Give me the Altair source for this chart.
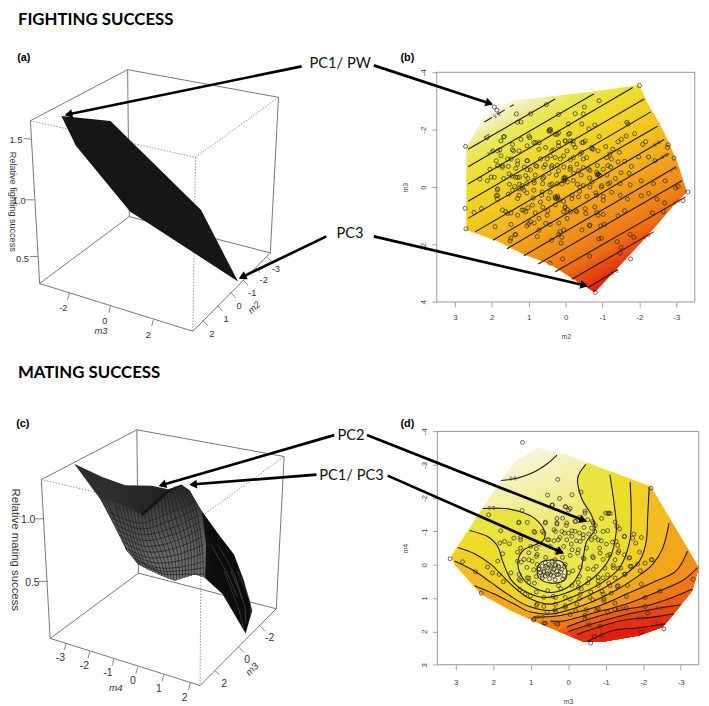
import math
import altair as alt
import pandas as pd

W, H = 701, 698
INK = "#111111"

# ---------- panel (b): fighting success, values read as (m2, m3) ----------
hull_b = [(2.69,-1.38),(2.24,-2.38),(1.44,-3.02),(.68,-3.12),(-.04,-3.23),(-.75,-3.33),(-2.0,-3.56),(-2.22,-2.93),
          (-2.54,-2.24),(-2.80,-1.55),(-3.03,-.86),(-3.29,.17),(-2.89,.69),(-2.36,1.49),(-2.0,2.0),(-1.46,2.75),
          (-.79,3.67),(-.21,3.21),(.41,2.70),(1.13,2.35),(1.84,1.89),(2.69,1.49),(2.69,.06)]
contours_b = [
    [(2.64,-1.32),(.28,-3.07)],[(2.64,-.71),(-.77,-3.25)],[(2.64,-.11),(-1.82,-3.47)],
    [(2.64,.49),(-2.13,-3.07)],[(2.64,1.09),(-2.31,-2.62)],[(2.45,1.56),(-2.49,-2.12)],[(1.97,1.85),(-2.67,-1.66)],
    [(1.59,2.15),(-2.80,-1.17)],[(1.13,2.39),(-2.98,-.69)],[(.74,2.68),(-3.16,-.23)],[(.28,2.95),(-3.25,.34)],
    [(-.17,3.21),(-2.40,1.55)],[(-.62,3.50),(-1.42,2.87)]]
contour_b_top = [(2.20,-2.27),(1.41,-2.87)]
labels_b = [(1.86,-2.50,"1.6"),(2.12,-1.75,"1.5"),(2.02,-1.20,"1.4"),(-2.47,-1.52,"0.9"),(-2.68,-1.08,"0.8"),
            (-2.92,-.62,"0.7"),(-3.0,.52,"0.6"),(-2.19,1.72,"0.5"),(-1.33,2.96,"0.3")]
points_b = [(-2.00,-3.54),(-.91,-3.01),(-.51,-2.79),(-.26,-2.56),(-.48,-2.55),(.19,-2.53),(.52,-2.87),(.95,-2.55),(1.33,-2.55),
 (1.93,-2.79),(1.86,-2.68),(1.30,-2.26),(1.21,-2.27),(2.71,-1.42),(2.13,-1.72),(-.08,-2.20),(-.44,-2.20),(-.79,-2.16),(-.63,-2.03),
 (-1.66,-2.26),(-1.69,-2.20),(.44,-1.99),(.41,-1.95),(.99,-1.78),(.97,-1.72),(.28,-1.84),(.19,-1.89),(-.08,-1.84),(-.11,-1.87),
 (-.91,-1.76),(-1.87,-1.86),(-1.64,-1.78),(-1.51,-1.66),(-1.42,-1.58),(-2.17,-1.58),(-2.09,-1.49),(-2.78,-1.48),(-2.76,-1.38),(-2.94,-1.01),
 (1.75,-1.61),(1.68,-1.75),(1.97,-1.26),(1.84,-1.26),(1.78,-1.30),(1.41,-1.26),(1.26,-1.26),(1.21,-1.66),(1.44,-1.49),(.81,-1.55),(.72,-1.55),
 (.54,-1.38),(.32,-1.30),(.19,-1.55),(.01,-1.61),(-.13,-1.61),(-.21,-1.49),(-.44,-1.55),(-.53,-1.61),(-.75,-1.32),(-1.09,-1.41),(-1.28,-1.32),
 (-1.46,-1.21),(-1.11,-1.03),(-.71,-1.34),(-.57,-1.03),(-.39,-1.15),(-.13,-.95),(.14,-.98),(.41,-1.09),(.68,-.98),(1.04,-.92),(1.30,-.92),
 (1.57,-.98),(1.88,-.92),(1.84,-.75),(1.71,-.69),(2.05,-.62),(1.55,-.72),(1.35,-.65),(1.12,-.70),(.95,-.60),(.78,-.72),(.55,-.78),(.38,-.68),
 (.22,-.76),(.05,-.70),(-.12,-.62),(-.30,-.80),(-.48,-.68),(-.66,-.58),(-.86,-.75),(-1.02,-.62),(-1.22,-.70),(-1.42,-.88),(-1.60,-.90),(-1.78,-.72),
 (-1.98,-1.05),(-2.25,-1.05),(-2.42,-.92),(-1.72,-.48),(-1.50,-.50),(-1.35,-.30),(-1.12,-.42),(-.88,-.45),(-.86,-.42),(-.92,-.40),(-.65,-.32),(-.42,-.42),
 (-.22,-.48),(.02,-.30),(.02,-.25),(.05,-.32),(.25,-.42),(.45,-.48),(.62,-.30),(.82,-.42),(1.02,-.30),(1.25,-.35),(1.45,-.38),(1.68,-.30),(2.02,-.35),
 (2.32,-.28),(2.12,-.22),(1.52,-.10),(1.25,-.10),(1.18,-.05),(1.38,-.02),(1.05,-.12),(.85,-.15),(.62,-.12),(.42,-.08),(.22,-.12),(-.05,-.18),(-.32,-.10),
 (-.48,-.05),(-.72,-.18),(-.98,-.05),(-1.20,-.15),(-1.48,-.12),(-1.75,-.08),(-2.05,-.22),(-2.38,-.12),(-2.70,-.22),(-2.98,.03),(-3.05,-.02),(-3.31,.17),
 (2.72,.74),(2.48,.88),(2.28,.75),(1.88,.30),(1.85,.10),(1.85,.42),(1.55,.25),(1.30,.40),(1.05,.20),(.88,.38),(.65,.28),(.42,.18),(.22,.32),(.28,.38),
 (.25,.40),(.05,.50),(-.18,.28),(-.38,.15),(-.58,.32),(-.82,.20),(-1.02,.32),(-1.25,.18),(-1.48,.28),(-1.68,.42),(-2.05,.30),(-2.25,.22),(-2.48,.42),(-2.68,.55),
 (1.62,.85),(1.48,.90),(1.18,.80),(1.02,.72),(.82,.90),(.62,.70),(.48,.82),(.28,.62),(.02,.72),(-.05,.78),(-.28,.82),(-.55,.92),(-.85,.88),(-1.42,1.0),
 (-1.6,.82),(-2.35,.90),(2.70,1.45),(1.48,1.30),(1.35,1.65),(1.50,1.87),(1.0,1.28),(.85,1.25),(.72,1.50),(.42,1.30),(.18,1.25),(-.65,1.35),(-.95,1.35),(-1.05,1.30),
 (1.05,1.35),(.38,1.85),(.15,1.55),(.12,1.95),(.10,1.75),(.08,2.50),(.42,2.65),(-.65,2.40),(-1.40,1.90),(-1.50,2.10),(-1.48,2.30),(-1.75,1.65),(-1.85,1.75),(-1.76,2.50),
 (-.80,3.67),(-.90,1.80),(-1.02,.95),(-2.65,.85),(-3.18,.47),
 (1.26,.29),(1.17,.03),(1.13,.11),(1.30,-.34),(1.04,-.61),(-.88,-.46),(-.93,-.40),(-.84,-.52),(.05,-.23),(.10,-.11),(.01,-.34),(.21,.38),(.28,.34),(.16,.46),
 (.41,-2.01),(.45,-1.95),(.23,-1.84),(.01,-1.61),(-.20,-1.61),(-.48,-1.55),(.19,-1.44),(.37,-1.26),(-.04,-1.26),(-.26,-1.38),(-.44,-1.21),(-.71,-1.38),(-.88,-1.26),
 (-1.20,-1.15),(-.48,-.98),(-.21,-1.03),(.05,-1.09),(.28,-1.03),(.50,-.98),(.72,-1.32),(.86,-1.55),(1.04,-1.44),(1.44,-1.30),(1.66,-1.76),(1.75,-1.09),(1.71,-.75),
 (1.48,-.98),(1.30,-.80),(1.04,-.92),(.81,-.75),(.59,-.69),(.37,-.75),(.19,-.57),(-.13,-.69),(-.35,-.57),(-.62,-.63),(-1.15,-.75),(-1.24,-.98),(1.93,-.34),(1.53,-.46),
 (1.35,-.34),(1.08,-.40),(.86,-.23),(.59,-.34),(.37,-.11),(-.21,-.23),(-.39,0),(-.66,0),(-.97,0),(-1.15,-.11),(1.84,.06),(1.84,.29),(1.44,.11),(1.26,.06),(.86,.11),
 (.63,.17),(.46,.40),(-.17,.40),(-.35,.34),(-.84,.29),(-1.02,.46),(1.13,.80),(1.08,.86),(.90,.63),(.68,.52),(.01,.69),(.05,.86),(-.30,.86),(-.53,.75),(-.79,.69),(-.88,.98),
 (1.71,.80),(1.57,.92),(1.91,1.38),(1.30,.98),(.95,1.21),(.72,1.09),(.50,.98),(.54,1.26),(-.04,1.09),(-.13,.86),(-.44,1.49),(-.66,1.32),(-.97,1.78),(.05,1.49),(.19,1.66),
 (.77,1.72),(1.48,1.78),(1.37,1.66)]

# ---------- panel (d): mating success, values read as (m3, m4) ----------
hull_d_read = [(3.11,-.26),(2.06,-2.09),(1.44,-3.08),(.83,-3.52),(.04,-3.30),(-1.11,-2.78),(-2.21,-2.33),(-2.69,-1.30),(-3.22,-.41),
          (-3.48,.09),(-3.31,.78),(-2.82,1.47),(-2.52,1.87),(-1.90,2.12),(-.93,2.31),(-.40,2.31),(.04,2.02),(.74,1.77),(1.53,1.37),(2.32,.88),(3.03,-.01)]
contour_12 = [(1.79,-2.53),(1.35,-2.60),(.91,-2.78),(.56,-3.03),(.30,-3.29)]
contour_11 = [(2.28,-1.69),(1.71,-1.69),(1.27,-1.59),(.87,-1.37),(.63,-1.0),(.69,-.70),(1.18,-.45),(1.34,-.11),(1.27,.29),(1.0,.63),(.47,.83),
              (-.05,.63),(-.32,.19),(-.40,-.21),(-.49,-.70),(-.71,-1.05),(-.62,-1.49),(-.36,-1.99),(-.25,-2.58),(-.47,-3.01)]
contour_loop = [(.83,.09),(.65,-.11),(.21,-.11),(.04,.19),(.12,.48),(.47,.55),(.78,.39),(.83,.09)]
contours_d = [
 [(2.63,-1.03),(2.15,-.85),(1.88,-.55),(1.75,-.11),(1.53,.44),(1.18,.78),(.65,.98),(-.05,.80),(-.67,.39),(-1.11,-.21),(-1.28,-1.0),(-1.24,-1.69),(-1.11,-2.70)],
 [(2.94,-.52),(2.50,-.33),(2.06,-.01),(1.79,.29),(1.44,.68),(1.0,1.03),(.47,1.18),(-.14,.95),(-.84,.58),(-1.37,.09),(-1.64,-.70),(-1.68,-1.49),(-1.65,-2.48)],
 [(3.03,-.11),(2.50,.19),(2.06,.53),(1.62,.88),(1.09,1.23),(.47,1.37),(-.14,1.13),(-.84,.76),(-1.46,.34),(-1.90,-.11),(-2.08,-.70),(-2.12,-1.49),(-2.16,-2.33)],
 [(2.50,.63),(1.97,.88),(1.44,1.18),(1.0,1.42),(.39,1.47),(-.49,1.18),(-1.28,.76),(-1.90,.31),(-2.25,-.01),(-2.52,-.50),(-2.69,-1.25)],
 [(.91,1.57),(.21,1.52),(-.76,1.26),(-1.55,.88),(-2.25,.53),(-2.87,.19),(-3.18,-.41)],
 [(.47,1.69),(.04,1.67),(-.67,1.45),(-1.55,1.18),(-2.34,.83),(-3.04,.48),(-3.44,.09)],
 [(.04,1.87),(-.49,1.65),(-1.37,1.37),(-2.08,1.23),(-2.78,.98),(-3.31,.73)],
 [(-.01,2.0),(-.58,1.79),(-1.55,1.49),(-2.43,1.30),(-3.0,1.20)],
 [(-.23,2.09),(-1.37,1.69),(-2.25,1.57),(-2.82,1.47)],
 [(-.49,2.31),(-1.20,1.97),(-1.90,1.89),(-2.60,1.77)]]
band_colors = ["#ebe440","#eedc2a","#f2d024","#f3bc20","#f3a61c","#f19018","#ee7616","#eb5c14","#e84412","#e42e10","#df1f0e"]
labels_d = [(1.48,-2.58,"1.2"),(2.05,-1.69,"1.1"),(.74,1.57,"0.6"),(.32,1.77,"0.5"),(-1.37,1.33,"0.4"),(-2.43,1.30,"0.3"),(-1.90,1.62,"0.2"),(-2.40,1.77,"0.1")]
points_d = [(1.22,-3.67),(.28,-2.56),(.55,-2.09),(.23,-1.99),(-.10,-2.10),(-.34,-2.18),(-2.21,-2.30),(2.12,-1.50),(1.23,-1.63),(1.32,-1.26),(1.09,-1.27),
 (.42,-1.79),(.07,-1.74),(-.05,-1.69),(.61,-1.25),(.89,-.97),(.65,-.95),(1.80,-1.02),(1.45,-.80),(1.82,-.65),(1.70,-.70),(1.57,-.63),(1.27,-.75),(1.75,-.33),(1.35,-.38),
 (1.88,-.11),(3.15,-.18),(2.82,-.09),(2.15,.07),(2.02,.24),(1.84,.29),(2.47,.21),(2.32,.85),(1.73,.51),(1.27,.48),(1.29,.75),(.92,1.66),(.61,1.76),(.28,1.78),(-.05,1.49),
 (1.0,-.55),(.85,-.48),(.78,-.62),(.55,-.75),(.38,-1.05),(.30,-1.22),(.15,-1.40),(.05,-1.18),(-.10,-1.02),(-.20,-1.30),(-.30,-1.42),(-.45,-1.55),(-.52,-1.35),(-.65,-1.30),
 (-.72,-1.18),(-.42,-1.12),(-.30,-.95),(-.10,-.85),(.10,-.95),(.22,-.82),(.38,-.72),(.48,-.55),(.28,-.45),(.12,-.55),(-.08,-.62),(-.22,-.72),(-.40,-.80),(-.55,-.92),
 (-.72,-.82),(-.88,-.72),(-1.02,-.62),(-1.18,-.68),(-1.32,-.58),(-1.05,-1.02),(-1.25,-1.28),(-1.08,-1.55),(-1.0,-1.55),(-1.30,-1.15),(-1.50,-.85),(-1.72,-.80),(-1.75,-.92),
 (-1.95,-.82),(-1.80,-.65),(-1.35,-.42),(-1.50,-.30),(-1.62,-.20),(-1.25,-.15),(-1.05,-.28),(-.85,-.35),(-.65,-.25),(-.42,-.18),(-.25,-.35),(-.05,-.28),(.15,-.22),(.35,-.15),
 (.60,-.22),(.85,-.25),(1.05,-.15),(1.25,-.08),(1.10,.08),(.92,.15),(.78,.12),(.60,.05),(.45,.10),(.35,.02),(.25,.08),(.10,.05),(.65,.22),(.55,.28),(.42,.22),(.30,.30),
 (.20,.22),(.70,.32),(.85,.35),(.50,.42),(.35,.45),(.15,.42),(1.05,.40),(.90,.55),(-.12,.18),(-.32,.08),(-.52,.12),(-.75,.05),(-.98,.10),(-1.20,.02),(-1.40,.10),(-1.65,.05),
 (-1.85,-.02),(-2.05,-.05),(-2.22,-.15),(-1.92,.18),(-1.52,.28),(-1.25,.40),(-1.05,.30),(-.80,.38),(-.55,.42),(-.30,.35),(-.52,.55),(-.80,.62),(-1.08,.55),(-1.30,.65),(-1.58,.62),
 (-1.95,.58),(-3.33,.44),(-2.45,.79),(-2.05,.98),(-1.55,.95),(-1.15,.85),(-.90,.80),(-.60,.82),(-.35,.72),(-.10,.62),(.20,.72),(.55,.78),(.85,.82),(1.15,.88),(.40,.95),(.08,.98),
 (-.30,1.02),(-.65,1.05),(-.95,1.02),(-1.25,1.15),(-1.55,1.30),(.85,1.22),(.65,1.25),(.35,1.35),(.08,1.28),(-.20,1.38),(-.48,1.35),(-.80,1.32),(-1.05,1.42),(-2.05,1.25),(-2.12,1.45),
 (-.45,1.62),(-.55,1.80),(-.85,1.85),(-.70,2.15),(-.90,2.12),(-.60,2.35),(-1.95,2.02),(-2.55,1.93),(-2.23,-.15),(-1.90,-.38),
 (.78,.14),(.69,.04),(.61,-.06),(.52,-.01),(.43,-.11),(.34,-.01),(.26,.04),(.17,.14),(.74,.24),(.65,.19),(.56,.09),(.47,.04),(.39,.14),(.30,.19),(.61,.34),(.47,.29),(.39,.34),(.26,.29),
 (.83,-.01),(.52,.24),(.69,.39),(.12,.34),(.08,-.01),(-.01,.24),(.43,-1.79),(.08,-1.74),(-.01,-1.64),(-.45,-1.61),(-1.06,-1.54),(-1.12,-1.54),(-.89,-1.39),(1.31,-1.28),(.61,-1.28),
 (.30,-1.39),(.30,-1.25),(.04,-1.25),(-.18,-1.30),(-.67,-1.25),(-.62,-1.10),(-.71,-1.0),(-1.37,-1.08),(-.93,-1.0),(.91,-1.0),(.69,-1.0),(.34,-1.0),(.17,-1.0),(-.01,-.95),(-.18,-1.0),
 (-.40,-.90),(-1.50,-.85),(-1.28,-.70),(-.80,-.75),(-.62,-.75),(-.32,-.70),(.04,-.75),(.26,-.75),(.52,-.75),(1.27,-.82),(1.27,-.50),(1.05,-.36),(.83,-.31),(.30,-.36),(-.10,-.45),(-.27,-.45),
 (-.49,-.50),(-.84,-.50),(-1.11,-.31),(-1.33,-.36),(-1.64,-.21),(-.40,-.21),(-.67,-.21),(-.93,-.16),(-1.20,.09),(-1.33,.11),(-1.68,.04),(-.67,.14),(1.35,-.11),(1.18,-.16),(.96,-.11),
 (1.53,.24),(1.31,.29),(1.09,.39),(1.31,.44),(1.05,.53),(-.93,.39),(-1.50,.29),(-.27,.53),(-.80,.48),(-1.11,.63),(-1.33,.63),(.26,.63),(-.27,.68),(1.01,.93),(.65,.98),(.34,.98),(-.05,1.03),
 (-.32,.88),(-.58,.98),(-.93,.88),(.83,1.18),(.34,1.18),(.08,1.23),(-.23,1.18),(-.95,1.08),(-1.24,1.33),(-.76,1.37),(.56,1.42),(.34,1.42),(-.45,1.52),(.65,1.75),(.91,1.62)]

# ---------- screen geometry of the 3D boxes and surfaces, in crop units (3x) ----------
box_a_solid = [[(92,354),(387,199),(845,283),(820,755),(392,645),(120,848),(92,354)],[(387,199),(392,645)],[(120,848),(585,993),(820,755)]]
box_a_dotted = [[(92,354),(593,465),(845,283)],[(593,465),(585,993)]]
surface_a = [(186,340),(335,355),(610,625),(722,842),(450,665),(395,630),(230,430),(186,340)]
ticks_a = [[(72,408),(95,410)],[(78,594),(105,594)],[(90,766),(115,766)],[(210,877),(205,897)],[(335,917),(330,937)],[(465,958),(460,978)],
           [(615,960),(630,975)],[(660,915),(675,932)],[(700,875),(715,892)],[(738,838),(752,853)],[(775,800),(790,815)],[(810,767),(825,782)]]
tick_text_a = [(48,413,"1.5"),(58,598,"1.0"),(68,773,"0.5"),(192,922,"-2"),(318,962,"0"),(450,1003,"2"),
               (643,1000,"2"),(686,957,"1"),(725,917,"0"),(765,877,"-1"),(800,838,"-2"),(837,803,"-3")]

box_c_solid = [[(125,363),(415,212),(862,293),(838,755),(420,647),(152,845),(125,363)],[(415,212),(420,647)],[(152,845),(607,988),(838,755)]]
box_c_dotted = [[(125,363),(610,475),(862,293)],[(610,475),(607,988)]]
surface_c = [(225,315),(310,355),(380,380),(460,382),(510,392),(550,378),(575,395),(610,455),(660,525),(710,590),(740,670),(765,760),(745,830),
             (710,770),(675,710),(620,660),(590,650),(560,660),(530,670),(490,655),(420,620),(385,580),(350,510),(310,430),(280,390),(225,315)]
facets_c = [(300,415),(370,440),(430,470),(490,415),(550,382),(575,397),(612,460),(625,560),(622,662),(590,650),(560,660),(530,670),(490,655),(420,620),(385,580),(350,510),(300,415)]
mesh_c = [[(575,397),(598,470),(612,560),(618,655)],[(550,382),(578,460),(597,560),(597,652)],[(530,385),(555,460),(578,560),(580,655)],
          [(515,395),(530,470),(558,570),(562,660)],[(498,410),(510,490),(538,580),(545,664)],[(478,430),(490,510),(517,590),(527,668)],
          [(458,450),(470,530),(497,600),(510,664)],[(438,465),(452,540),(478,610),(492,655)],[(418,462),(432,545),(458,615),(473,648)],
          [(395,452),(415,545),(440,620),(455,640)],[(372,445),(398,540),(420,610),(438,630)],[(350,440),(380,540),(405,600),(420,620)],[(325,430),(360,510),(385,580)]]
arcs_c = [[(330,460),(420,495),(500,470),(590,430)],[(345,495),(430,530),(520,510),(605,470)],[(360,530),(440,565),(530,550),(612,510)],[(380,570),(455,600),(540,590),(618,560)],
          [(405,600),(475,630),(550,628),(620,610)],[(440,625),(500,650),(560,650),(620,650)]]
fold_c = [(510,397),(470,435),(430,470)]
streaks_c = [[(700,640),(740,740),(745,800)],[(680,640),(725,760),(740,820)],[(720,640),(757,730),(760,780)],[(640,560),(690,650),(720,720)],[(660,560),(710,650),(735,730)]]
ticks_c = [[(105,482),(132,482)],[(118,672),(145,672)],[(200,860),(195,880)],[(272,885),(267,905)],[(345,908),(340,928)],[(418,932),(412,952)],
           [(497,955),(492,975)],[(577,980),(572,1000)],[(652,942),(667,957)],[(725,872),(740,887)],[(790,808),(805,823)]]
tick_text_c = [(85,487,"1.0"),(98,677,"0.5"),(183,905,"-3"),(256,928,"-2"),(327,950,"-1"),(403,975,"0"),(482,1000,"1"),(560,1025,"2"),
               (680,983,"2"),(750,910,"0"),(818,843,"-2")]

# ---------- annotations ----------
arrows = [((305,63),(67,112)),((378,62),(497,101)),((330,235),(243,277)),((378,235),(593,285)),
          ((338,436),(162,487)),((320,476),(193,486)),((371,436),(592,523)),((392,477),(569,555))]
callouts = [(344,61,"PC1/ PW"),(354,233,"PC3"),(355,437,"PC2"),(355.5,477,"PC1/ PC3")]
headings = [(18,21,"FIGHTING SUCCESS"),(18,378,"MATING SUCCESS")]
panel_tags = [(24,55,"(a)"),(412,55,"(b)"),(23,425,"(c)"),(412,425,"(d)")]

# ---------- scales ----------
def cx(f="x"):
    return alt.X(f"{f}:Q", scale=alt.Scale(domain=[0, 709], range=[-8, W]), axis=None)
def cy(f="y"):
    return alt.Y(f"{f}:Q", scale=alt.Scale(domain=[0, 706], range=[-8, H]), axis=None)

BOX_B = dict(l=441.7, r=702.7, t=69.0, b=301.3, xd=[3.49, -3.5], yd=[-4, 4])
BOX_D = dict(l=442.3, r=706.7, t=432.3, b=668.3, xd=[3.49, -3.48], yd=[-4, 3])
def dx(B, axis=None):
    return alt.X("x:Q", scale=alt.Scale(domain=B["xd"], range=[B["l"]-8, B["r"]-8]), axis=axis)
def dy(B, axis=None):
    return alt.Y("y:Q", scale=alt.Scale(domain=B["yd"], range=[B["t"]-8, B["b"]-8]), axis=axis)

def frame(pts):
    return pd.DataFrame({"x": [p[0] for p in pts], "y": [p[1] for p in pts], "i": range(len(pts))})

def shape(pts, X, Y, fill):
    if pts[0] != pts[-1]:
        pts = list(pts) + [pts[0]]
    return alt.Chart(frame(pts)).mark_line(fill=fill, strokeWidth=0, stroke="transparent").encode(x=X, y=Y, order="i:Q")

def path(pts, X, Y, color=INK, width=1.0, dash=None, interp=None):
    kw = {}
    if dash: kw["strokeDash"] = dash
    if interp: kw["interpolate"] = interp
    return alt.Chart(frame(pts)).mark_line(color=color, strokeWidth=width, **kw).encode(x=X, y=Y, order="i:Q")

def text(rows, X, Y, size, font="Liberation Sans", color="#222222", weight="normal", style="normal", angle=0, align="center", baseline="middle"):
    df = pd.DataFrame(rows, columns=["x", "y", "t"])
    return alt.Chart(df).mark_text(font=font, fontSize=size, color=color, fontWeight=weight, fontStyle=style,
                                   angle=angle, align=align, baseline=baseline).encode(x=X, y=Y, text="t:N")

def crop(pts, oy=0, ox=0):
    return [(ox + p[0] / 3, oy + p[1] / 3) for p in pts]

def doubled(lines):
    out = []
    for a, b in zip(lines, lines[1:]):
        out.append(a)
        if len(a) == len(b):
            out.append([((p[0]+q[0])/2, (p[1]+q[1])/2) for p, q in zip(a, b)])
    out.append(lines[-1])
    return out

def convex_hull(pts):
    pts = sorted(set(pts))
    def half(seq):
        h = []
        for p in seq:
            while len(h) >= 2 and (h[-1][0]-h[-2][0])*(p[1]-h[-2][1]) - (h[-1][1]-h[-2][1])*(p[0]-h[-2][0]) <= 0:
                h.pop()
            h.append(p)
        return h[:-1]
    return half(pts) + half(pts[::-1])

def clip_convex(poly, hull):
    area = sum(hull[i][0]*hull[(i+1) % len(hull)][1] - hull[(i+1) % len(hull)][0]*hull[i][1] for i in range(len(hull)))
    sgn = 1 if area > 0 else -1
    out = poly
    for i in range(len(hull)):
        a, b = hull[i], hull[(i+1) % len(hull)]
        def side(p):
            return sgn * ((b[0]-a[0])*(p[1]-a[1]) - (b[1]-a[1])*(p[0]-a[0]))
        res = []
        for j in range(len(out)):
            p, q = out[j], out[(j+1) % len(out)]
            sp, sq = side(p), side(q)
            if sp >= 0:
                res.append(p)
            if sp * sq < 0:
                t = sp / (sp - sq)
                res.append((p[0]+t*(q[0]-p[0]), p[1]+t*(q[1]-p[1])))
        out = res
        if not out:
            break
    return out

def band(contour):
    a, b = contour[0], contour[1]
    y, z = contour[-1], contour[-2]
    start = (a[0]+(a[0]-b[0])*6, a[1]+(a[1]-b[1])*6)
    end = (y[0]+(y[0]-z[0])*6, y[1]+(y[1]-z[1])*6)
    return [start] + contour + [end, (-9, -9), (-9, 9), (9, 9)]

def stops(pairs):
    return [alt.GradientStop(color=c, offset=o) for o, c in pairs]

layers = []
cxx, cyy = cx(), cy()
AXC = "#666666"

# ---- 3D panels
for solid, dotted, ticks, oy in [(box_a_solid, box_a_dotted, ticks_a, 0), (box_c_solid, box_c_dotted, ticks_c, 360)]:
    for s in solid:
        layers.append(path(crop(s, oy), cxx, cyy, AXC, 0.9))
    for s in dotted:
        layers.append(path(crop(s, oy), cxx, cyy, "#777777", 0.8, dash=[1.5, 1.5]))
    for s in ticks:
        layers.append(path(crop(s, oy), cxx, cyy, AXC, 0.8))
layers.append(shape(crop(surface_a), cxx, cyy, "#161616"))
layers.append(shape(crop(surface_c, 360), cxx, cyy, alt.LinearGradient(gradient="linear", x1=.2, y1=0, x2=.8, y2=0, stops=stops([(0, "#2e2e2e"), (.5, "#222222"), (1, "#0c0c0c")]))))
layers.append(shape(crop(facets_c, 360), cxx, cyy, alt.LinearGradient(gradient="linear", x1=.5, y1=.05, x2=.5, y2=1, stops=stops(
    [(0, "#2b2b2b"), (.35, "#4c4c4c"), (.7, "#686868"), (1, "#767676")]))))
for m in doubled(mesh_c) + doubled(arcs_c):
    layers.append(path(crop(m, 360), cxx, cyy, "#1a1a1a", 0.7, interp="cardinal"))
layers.append(path(crop(fold_c, 360), cxx, cyy, "#161616", 3.0))
for m in streaks_c:
    layers.append(path(crop(m, 360), cxx, cyy, "#4d4d4d", 0.7, interp="cardinal"))

for rows, oy, sz in [(tick_text_a, 0, 9.5), (tick_text_c, 360, 10.5)]:
    layers.append(text([(p[0]/3, oy+p[1]/3, p[2]) for p in rows], cxx, cyy, sz, color="#333333"))
layers.append(text([(102, 331, "m3")], cxx, cyy, 9.5, style="italic", color="#333333"))
layers.append(text([(257, 307, "m2")], cxx, cyy, 9.5, style="italic", color="#333333", angle=315))
layers.append(text([(13, 200, "Relative fighting success")], cxx, cyy, 9.2, color="#333333", angle=90))
layers.append(text([(117, 692, "m4")], cxx, cyy, 10, style="italic", color="#333333"))
layers.append(text([(255, 673, "m3")], cxx, cyy, 10, style="italic", color="#333333", angle=315))
layers.append(text([(15, 552, "Relative mating success")], cxx, cyy, 11.5, color="#333333", angle=90))

# ---- panel (b)
bx, by = dx(BOX_B), dy(BOX_B)
layers.append(shape(hull_b, bx, by, alt.LinearGradient(gradient="linear", x1=.127, y1=.103, x2=.647, y2=.957, stops=stops(
    [(0, "#f8f6e4"), (.08, "#f0eea4"), (.14, "#ebe75a"), (.25, "#ece030"), (.43, "#f4c820"), (.6, "#f3a81c"), (.75, "#f08818"), (.85, "#ec6c14"), (.93, "#e84010"), (1, "#e0200e")]))))
layers.append(path(contour_b_top, bx, by, "#1a1a1a", 1.1, dash=[9, 6]))
for c in contours_b:
    layers.append(path(c, bx, by, "#1a1a1a", 1.1))
layers.append(text(labels_b, bx, by, 5.5, color="#333333", angle=150))
layers.append(alt.Chart(pd.DataFrame(points_b, columns=["x", "y"])).mark_point(shape="circle", filled=False, size=17, color="#222222", strokeWidth=0.8, opacity=.85).encode(x=bx, y=by))

# ---- panel (d)
hull_d = convex_hull(hull_d_read)
ex, ey = dx(BOX_D), dy(BOX_D)
layers.append(shape(hull_d, ex, ey, alt.LinearGradient(gradient="linear", x1=.30, y1=.03, x2=.55, y2=.60, stops=stops(
    [(0, "#f8f5dc"), (.35, "#f3ee9a"), (.7, "#eee65e"), (1, "#ebe44c")]))))
for c, col in zip([contour_11] + contours_d, band_colors):
    layers.append(shape(clip_convex(band(c), hull_d), ex, ey, col))
layers.append(shape(contour_loop, ex, ey, "#f5f0a8"))
for c in [contour_12, contour_11, contour_loop] + contours_d:
    layers.append(path(c, ex, ey, "#1a1a1a", 1.1, interp="cardinal"))
layers.append(text(labels_d, ex, ey, 5.5, color="#333333", angle=178))
layers.append(alt.Chart(pd.DataFrame(points_d, columns=["x", "y"])).mark_point(shape="circle", filled=False, size=16, color="#222222", strokeWidth=0.8, opacity=.85).encode(x=ex, y=ey))

# ---- frames with real axes
def frame_layer(B, xt, yt, xtitle, ytitle, xpad):
    plain = "'' + datum.value"
    ax_x = alt.Axis(values=xt, orient="bottom", offset=-(H - (B["b"] - 8)), domain=False, grid=False, tickSize=5, tickColor="#888888", tickWidth=.8,
                    labelFontSize=8, labelColor="#444444", labelFont="Liberation Sans", labelPadding=xpad, labelExpr=plain,
                    title=xtitle, titleFontSize=7, titleFontWeight="normal", titleColor="#444444", titleFont="Liberation Sans", titlePadding=11)
    ax_y = alt.Axis(values=yt, orient="left", offset=-(B["l"] - 8), domain=False, grid=False, tickSize=5, tickColor="#888888", tickWidth=.8,
                    labelFontSize=8, labelColor="#444444", labelFont="Liberation Sans", labelAngle=-90, labelAlign="center", labelBaseline="middle", labelPadding=8, labelExpr=plain,
                    title=ytitle, titleFontSize=7, titleFontWeight="normal", titleColor="#444444", titleFont="Liberation Sans", titlePadding=12)
    df = pd.DataFrame({"x": [B["xd"][0]], "x2": [B["xd"][1]], "y": [B["yd"][0]], "y2": [B["yd"][1]]})
    return alt.Chart(df).mark_rect(fill="transparent", stroke="#8a8a8a", strokeWidth=.9).encode(x=dx(B, ax_x), x2="x2:Q", y=dy(B, ax_y), y2="y2:Q")

layers.append(frame_layer(BOX_B, [3, 2, 1, 0, -1, -2, -3], [-4, -2, 0, 2, 4], "m2", "m3", 7))
layers.append(frame_layer(BOX_D, [3, 2, 1, 0, -1, -2, -3], [-4, -3, -2, -1, 0, 1, 2, 3], "m3", "m4", 9))

# ---- arrows
for tail, head in arrows:
    layers.append(path([tail, head], cxx, cyy, "#000000", 2.7))
rows = []
for t, h in arrows:
    L = math.hypot(h[0]-t[0], h[1]-t[1])
    rows.append({"x": h[0]-(h[0]-t[0])/L*3.5, "y": h[1]-(h[1]-t[1])/L*3.5, "a": math.degrees(math.atan2(h[0]-t[0], -(h[1]-t[1]))) % 360})
layers.append(alt.Chart(pd.DataFrame(rows)).mark_point(shape="triangle", filled=True, size=80, color="#000000", opacity=1).encode(x=cxx, y=cyy, angle=alt.Angle("a:Q", scale=None)))

# ---- text
layers.append(text(callouts, cxx, cyy, 14.8, font="Lato", color="#111111"))
layers.append(text(headings, cxx, cyy, 17, font="Lato", color="#000000", weight="bold", align="left", baseline="alphabetic"))
layers.append(text(panel_tags, cxx, cyy, 11, color="#000000", weight="bold"))

chart = alt.layer(*layers).resolve_scale(x="independent", y="independent").properties(
    width=W, height=H, padding=0, autosize=alt.AutoSizeParams(type="none")
).configure_view(stroke=None).configure_axis(labelOverlap=False)

chart.save("out.html", embed_options={"renderer": "svg", "actions": False})
